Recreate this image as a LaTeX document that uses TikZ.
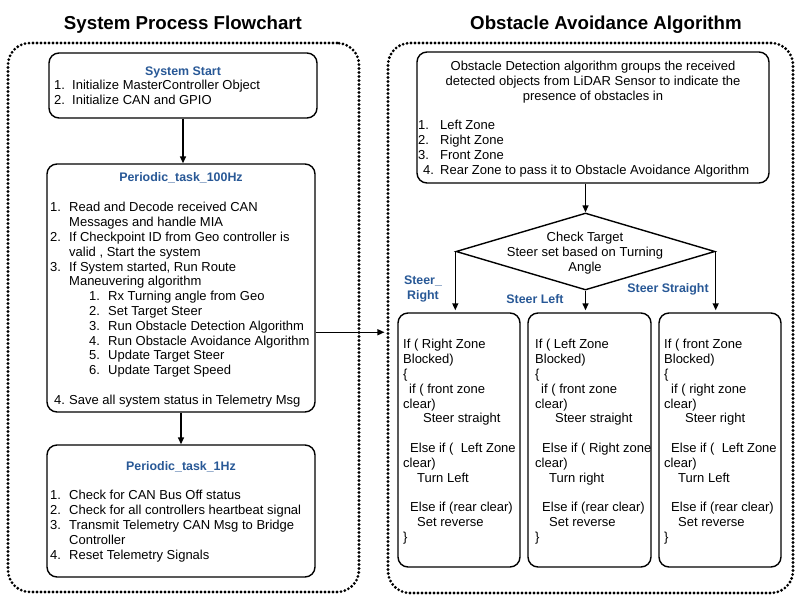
\documentclass[tikz,border=0pt]{standalone}
\usepackage{fontspec}
\setmainfont{Liberation Sans}
\usetikzlibrary{shapes.geometric,arrows.meta,calc}
\definecolor{hdrblue}{RGB}{40,88,150}
\newcommand{\bodyfont}{\fontsize{13}{14.8}\selectfont}
\newcommand{\hdrfont}{\fontsize{12.4}{14.8}\selectfont\bfseries}
\newcommand{\titlefont}{\fontsize{18.7}{22}\selectfont\bfseries}
\newcommand{\firststrut}{\rule{0pt}{10.5pt}}
\newcommand{\numbox}[2]{\makebox[#1][l]{#2}}
\begin{document}
\begin{tikzpicture}[x=1pt,y=-1pt,
  container/.style={draw, line width=3.1pt, dash pattern=on 0pt off 4pt, line cap=round, rounded corners=22pt, inner sep=0pt},
  box/.style={draw, line width=1.4pt, rounded corners=10pt, inner sep=0pt},
  arr/.style={line width=1.4pt, -{Triangle[length=7pt,width=6pt]}},
  bodytext/.style={inner sep=0pt, font=\bodyfont, align=left},
  hdrlabel/.style={inner sep=0pt, font=\hdrfont, text=hdrblue},
  titletext/.style={inner sep=0pt, font=\titlefont}]
\useasboundingbox (0,0) rectangle (800,600);

% titles
\node[titletext, anchor=base] (t1) at (183,29.5) {System Process Flowchart};
\node[titletext, anchor=base] (t2) at (606,29.5) {Obstacle Avoidance Algorithm};

% containers
\node[container, minimum width=351pt, minimum height=549pt] (lc) at (183.5,317.5) {};
\node[container, minimum width=405pt, minimum height=550pt] (rc) at (590.5,318) {};

% left column boxes
\node[box, minimum width=268pt, minimum height=65pt] (ss) at (183,85.5) {};
\node[box, minimum width=268pt, minimum height=248pt] (p100) at (181,288) {};
\node[box, minimum width=268pt, minimum height=132pt] (p1) at (181,511) {};

\node[hdrlabel, anchor=base] (ssh) at (183,75.4) {System Start};
\node[bodytext, anchor=north west] (sst) at (54,79.2) {\firststrut\numbox{18pt}{1.}Initialize MasterController Object\\
\numbox{18pt}{2.}Initialize CAN and GPIO};

\node[hdrlabel, anchor=base] (p100h) at (181,181.4) {Periodic\_task\_100Hz};
\node[bodytext, anchor=north west] (p100t) at (50,201.2) {\firststrut\numbox{19pt}{1.}Read and Decode received CAN\\
\hspace*{19pt}Messages and handle MIA\\
\numbox{19pt}{2.}If Checkpoint ID from Geo controller is\\
\hspace*{19pt}valid , Start the system\\
\numbox{19pt}{3.}If System started, Run Route\\
\hspace*{19pt}Maneuvering algorithm\\
\hspace*{39pt}\numbox{19pt}{1.}Rx Turning angle from Geo\\
\hspace*{39pt}\numbox{19pt}{2.}Set Target Steer\\
\hspace*{39pt}\numbox{19pt}{3.}Run Obstacle Detection Algorithm\\
\hspace*{39pt}\numbox{19pt}{4.}Run Obstacle Avoidance Algorithm\\
\hspace*{39pt}\numbox{19pt}{5.}Update Target Steer\\
\hspace*{39pt}\numbox{19pt}{6.}Update Target Speed\\
\mbox{}\\
\hspace*{4pt}\numbox{15pt}{4.}Save all system status in Telemetry Msg};

\node[hdrlabel, anchor=base] (p1h) at (181,470.4) {Periodic\_task\_1Hz};
\node[bodytext, anchor=north west] (p1t) at (50,489.2) {\firststrut\numbox{19pt}{1.}Check for CAN Bus Off status\\
\numbox{19pt}{2.}Check for all controllers heartbeat signal\\
\numbox{19pt}{3.}Transmit Telemetry CAN Msg to Bridge\\
\hspace*{19pt}Controller\\
\numbox{19pt}{4.}Reset Telemetry Signals};

% right column
\node[box, minimum width=352pt, minimum height=131pt] (odb) at (593,117.5) {};
\node[bodytext, align=center, anchor=north] (odt) at (593,60.2) {\firststrut Obstacle Detection algorithm groups the received\\
detected objects from LiDAR Sensor to indicate the\\
presence of obstacles in};
\node[bodytext, anchor=north west] (odl) at (418,119.2) {\firststrut\numbox{22pt}{1.}Left Zone\\
\numbox{22pt}{2.}Right Zone\\
\numbox{22pt}{3.}Front Zone\\
\hspace*{5pt}\numbox{17pt}{4.}Rear Zone to pass it to Obstacle Avoidance Algorithm};

\node[draw, diamond, line width=1.4pt, inner sep=0pt, shape aspect=3.36, minimum width=259pt, minimum height=77pt] (dia) at (585.5,251.5) {};
\node[bodytext, align=center] (dt) at (585,253) {Check Target\\Steer set based on Turning\\Angle};

\node[box, minimum width=122pt, minimum height=254pt] (b1) at (459,440) {};
\node[box, minimum width=123pt, minimum height=254pt] (b2) at (589.5,440) {};
\node[box, minimum width=122pt, minimum height=254pt] (b3) at (720,440) {};

\node[bodytext, anchor=north west] (b1t) at (403,338.2) {\firststrut If ( Right Zone\\
Blocked)\\
\{\\
\hspace*{6pt}if ( front zone\\
clear)\\
\hspace*{20pt}Steer straight\\
\mbox{}\\
\hspace*{7pt}Else if (\ \ Left Zone\\
clear)\\
\hspace*{14pt}Turn Left\\
\mbox{}\\
\hspace*{7pt}Else if (rear clear)\\
\hspace*{14pt}Set reverse\\
\}};

\node[bodytext, anchor=north west] (b2t) at (535,338.2) {\firststrut If ( Left Zone\\
Blocked)\\
\{\\
\hspace*{6pt}if ( front zone\\
clear)\\
\hspace*{20pt}Steer straight\\
\mbox{}\\
\hspace*{7pt}Else if ( Right zone\\
clear)\\
\hspace*{14pt}Turn right\\
\mbox{}\\
\hspace*{7pt}Else if (rear clear)\\
\hspace*{14pt}Set reverse\\
\}};

\node[bodytext, anchor=north west] (b3t) at (664,338.2) {\firststrut If ( front Zone\\
Blocked)\\
\{\\
\hspace*{7pt}if ( right zone\\
clear)\\
\hspace*{21pt}Steer right\\
\mbox{}\\
\hspace*{7pt}Else if (\ \ Left Zone\\
clear)\\
\hspace*{14pt}Turn Left\\
\mbox{}\\
\hspace*{7pt}Else if (rear clear)\\
\hspace*{14pt}Set reverse\\
\}};

% branch labels
\node[hdrlabel, align=center] (lr) at (423,289) {Steer\_\\Right};
\node[hdrlabel, anchor=base] (ll) at (535,303.4) {Steer Left};
\node[hdrlabel, anchor=base] (lst) at (668,292.4) {Steer Straight};

% connectors
\draw[arr] (ss.south) -- (ss.south |- p100.north);
\draw[arr] (p100.south) -- (p1.north);
\draw[arr, shorten >=2pt] ($(p100.south east)!0.3226!(p100.north east)$) coordinate (s1) -- (s1 -| rc.west);
\draw[arr] (dia.north |- odb.south) -- (dia.north);
\draw[arr, shorten >=2pt] (dia.west) -- (dia.west |- b1.north);
\draw[arr, shorten >=2pt] (dia.south) -- (dia.south |- b2.north);
\draw[arr, shorten >=2pt] (dia.east) -- (dia.east |- b3.north);
\end{tikzpicture}
\end{document}
